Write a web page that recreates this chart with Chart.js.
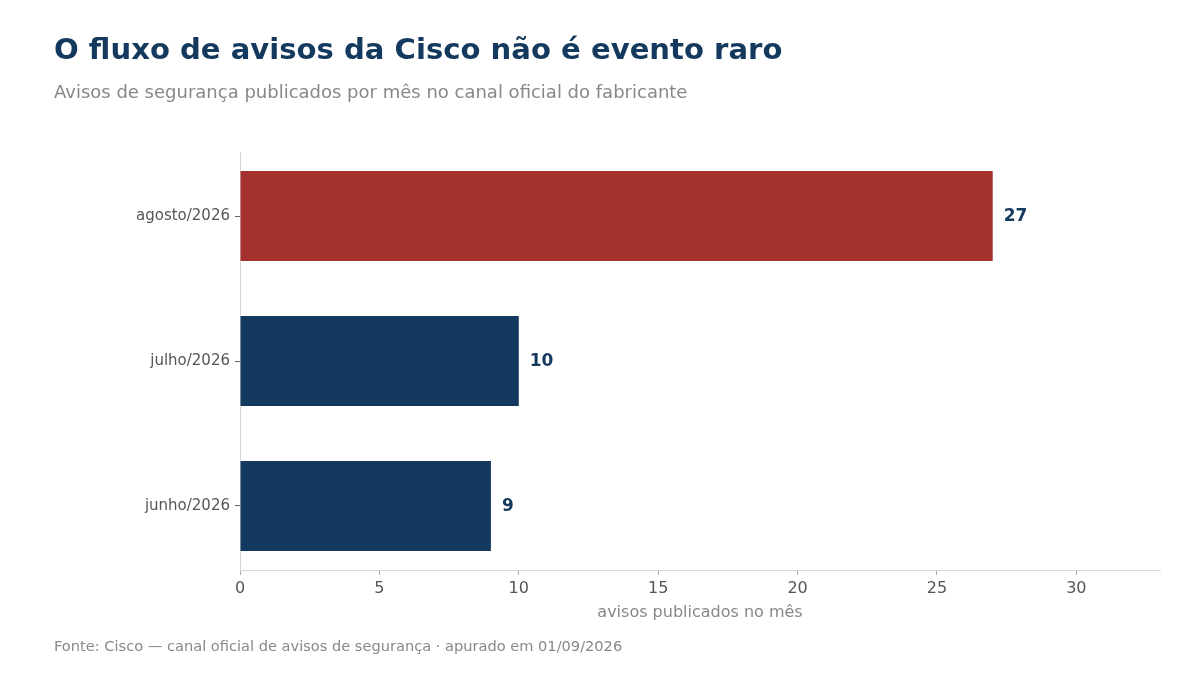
<!DOCTYPE html>
<html>
<head>
<meta charset="utf-8">
<script src="https://cdn.jsdelivr.net/npm/chart.js@4"></script>
<style>
  body { margin: 0; background: #fff; font-family: "DejaVu Sans", sans-serif; }
  #wrap { position: relative; width: 1200px; height: 675px; }
  #chart { position: absolute; left: 0; top: 0; }
  .txt { position: absolute; left: 54px; white-space: nowrap; }
  #title { top: 32px; font-size: 29.1px; font-weight: bold; color: #14395e; }
  #subtitle { top: 81px; font-size: 18px; color: #888; }
  #source { top: 637px; font-size: 14.6px; color: #888; }
</style>
</head>
<body>
<div id="wrap">
  <canvas id="chart" width="1200" height="675"></canvas>
  <div id="title" class="txt">O fluxo de avisos da Cisco não é evento raro</div>
  <div id="subtitle" class="txt">Avisos de segurança publicados por mês no canal oficial do fabricante</div>
  <div id="source" class="txt">Fonte: Cisco — canal oficial de avisos de segurança · apurado em 01/09/2026</div>
</div>
<script>
// meses (de cima para baixo) e contagem de avisos
const months = ['agosto/2026', 'julho/2026', 'junho/2026'];
const advisories = [27, 10, 9];
const barColors = ['#a63230', '#14395e', '#14395e'];
const xTicks = [0, 5, 10, 15, 20, 25, 30];

// rótulo com o valor ao fim de cada barra
const valueLabels = {
    id: 'valueLabels',
    afterDatasetsDraw(chart) {
        const ctx = chart.ctx;
        const meta = chart.getDatasetMeta(0);
        ctx.save();
        ctx.font = 'bold 17px "DejaVu Sans"';
        ctx.fillStyle = '#14395e';
        ctx.textBaseline = 'middle';
        ctx.textAlign = 'left';
        meta.data.forEach((bar, i) => {
            ctx.fillText(String(advisories[i]), bar.x + 11, bar.y + 1);
        });
        ctx.restore();
    }
};

// eixo y linear com um índice por mês, para controlar a margem acima e abaixo
const points = advisories.map((v, i) => ({ x: v, y: i }));

new Chart(document.getElementById('chart'), {
    type: 'bar',
    data: {
        datasets: [{
            data: points,
            backgroundColor: barColors,
            borderWidth: 0,
            barPercentage: 0.62,
            categoryPercentage: 1
        }]
    },
    options: {
        indexAxis: 'y',
        responsive: false,
        animation: false,
        layout: { padding: { left: 0, right: 40, top: 152, bottom: 0 } },
        plugins: { legend: { display: false }, tooltip: { enabled: false } },
        scales: {
            x: {
                type: 'linear',
                min: 0,
                max: 33,
                afterFit: (scale) => { scale.height = 105; },
                afterBuildTicks: (scale) => { scale.ticks = xTicks.map((v) => ({ value: v })); },
                ticks: {
                    padding: 4,
                    color: '#555',
                    font: { family: 'DejaVu Sans', size: 16 }
                },
                grid: { display: true, drawOnChartArea: false, tickLength: 5, tickColor: '#aaa' },
                border: { display: true, color: '#d8d8d8' },
                title: {
                    display: true,
                    text: 'avisos publicados no mês',
                    color: '#888',
                    font: { family: 'DejaVu Sans', size: 16 },
                    padding: { top: 4, bottom: 53 }
                }
            },
            y: {
                type: 'linear',
                reverse: true,
                offset: false,
                min: -0.4414,
                max: 2.4414,
                afterFit: (scale) => { scale.width = 240; },
                afterBuildTicks: (scale) => { scale.ticks = months.map((m, i) => ({ value: i })); },
                ticks: {
                    padding: 5,
                    color: '#555',
                    font: { family: 'DejaVu Sans', size: 15 },
                    callback: (v) => months[v]
                },
                grid: { display: true, offset: false, drawOnChartArea: false, tickLength: 5, tickColor: '#666' },
                border: { display: true, color: '#d8d8d8' }
            }
        }
    },
    plugins: [valueLabels]
});
</script>
</body>
</html>
